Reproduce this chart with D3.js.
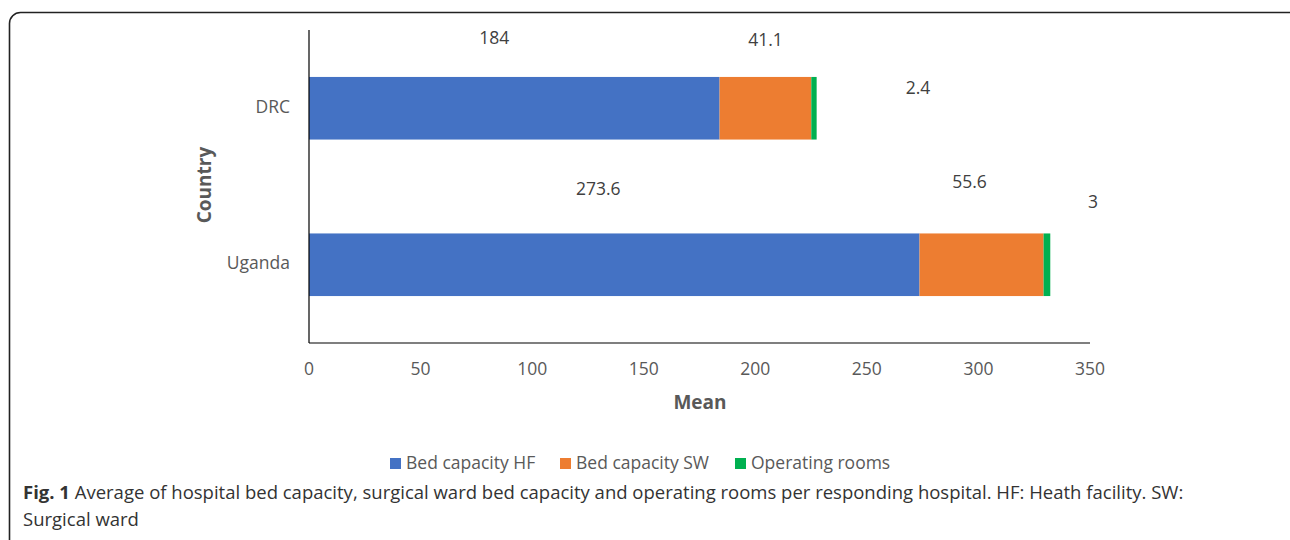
<!DOCTYPE html>
<html>
<head>
<meta charset="utf-8">
<script src="https://cdnjs.cloudflare.com/ajax/libs/d3/7.8.5/d3.min.js"></script>
<style>
  body { margin: 0; background: #fff; }
  text { font-family: "Open Sans", "Noto Sans", sans-serif; }
</style>
</head>
<body>
<script>
// dados
const countries = ["DRC", "Uganda"];
const seriesNames = ["Bed capacity HF", "Bed capacity SW", "Operating rooms"];
const bedHF = [184, 273.6];
const bedSW = [41.1, 55.6];
const opRooms = [2.4, 3];
const xTicks = [0, 50, 100, 150, 200, 250, 300, 350];
const colors = ["#4472c4", "#ed7d31", "#00b050"];

// deslocamento dos rótulos (como no Excel original)
const labelShift = [
  [[-20, -69], [0, -67], [104, -19]],
  [[-16, -74], [-12, -81], [46, -61]]
];

const W = 1290, H = 540;
const svg = d3.select("body").append("svg")
    .attr("width", W)
    .attr("height", H);

// moldura arredondada
svg.append("rect")
    .attr("x", 9.5)
    .attr("y", 12.5)
    .attr("width", 1320)
    .attr("height", 600)
    .attr("rx", 11)
    .attr("fill", "none")
    .attr("stroke", "#222")
    .attr("stroke-width", 1.6);

const pLeft = 309, pRight = 1090, pTop = 30, pBottom = 343;

const x = d3.scaleLinear().domain([0, 350]).range([pLeft, pRight]);
const y = d3.scaleBand().domain(countries).range([pTop, pBottom])
    .paddingInner(0.6).paddingOuter(0.3);

const rows = countries.map((c, i) => ({ country: c, vals: [bedHF[i], bedSW[i], opRooms[i]] }));
const stack = d3.stack().keys([0, 1, 2]).value((d, k) => d.vals[k]);
const layers = stack(rows);

// barras
svg.selectAll("g.layer")
    .data(layers)
    .join("g")
    .attr("class", "layer")
    .attr("fill", (d, i) => colors[i])
    .selectAll("rect")
    .data(d => d)
    .join("rect")
    .attr("x", d => x(d[0]))
    .attr("y", d => y(d.data.country))
    .attr("width", d => x(d[1]) - x(d[0]))
    .attr("height", y.bandwidth());

// rótulos de dados
layers.forEach((layer, k) => {
  layer.forEach((d, i) => {
    svg.append("text")
        .attr("x", (x(d[0]) + x(d[1])) / 2 + labelShift[i][k][0])
        .attr("y", y(d.data.country) + y.bandwidth() / 2 + labelShift[i][k][1])
        .attr("text-anchor", "middle")
        .attr("dominant-baseline", "middle")
        .attr("font-size", 17.5)
        .attr("fill", "#404040")
        .text(d.data.vals[k]);
  });
});

// eixos
svg.append("line")
    .attr("x1", pLeft).attr("x2", pLeft)
    .attr("y1", pTop).attr("y2", pBottom)
    .attr("stroke", "#000").attr("stroke-width", 1.2);
svg.append("line")
    .attr("x1", pLeft).attr("x2", pRight)
    .attr("y1", pBottom).attr("y2", pBottom)
    .attr("stroke", "#000").attr("stroke-width", 1.2);

svg.selectAll("text.xt")
    .data(xTicks)
    .join("text")
    .attr("class", "xt")
    .attr("x", d => x(d))
    .attr("y", 370)
    .attr("text-anchor", "middle")
    .attr("dominant-baseline", "middle")
    .attr("font-size", 17.5)
    .attr("fill", "#595959")
    .text(d => d);

svg.selectAll("text.yt")
    .data(countries)
    .join("text")
    .attr("class", "yt")
    .attr("x", pLeft - 19)
    .attr("y", d => y(d) + y.bandwidth() / 2)
    .attr("text-anchor", "end")
    .attr("dominant-baseline", "middle")
    .attr("font-size", 17.5)
    .attr("fill", "#595959")
    .text(d => d);

// títulos dos eixos
svg.append("text")
    .attr("x", 700).attr("y", 404)
    .attr("text-anchor", "middle")
    .attr("dominant-baseline", "middle")
    .attr("font-size", 19).attr("font-weight", "bold")
    .attr("fill", "#595959")
    .text("Mean");

svg.append("text")
    .attr("transform", "translate(206,185) rotate(-90)")
    .attr("text-anchor", "middle")
    .attr("dominant-baseline", "middle")
    .attr("font-size", 19).attr("font-weight", "bold")
    .attr("fill", "#595959")
    .text("Country");

// legenda
const legX = [390, 560, 735];
seriesNames.forEach((s, i) => {
  svg.append("rect")
      .attr("x", legX[i]).attr("y", 458)
      .attr("width", 11).attr("height", 11)
      .attr("fill", colors[i]);
  svg.append("text")
      .attr("x", legX[i] + 16).attr("y", 464)
      .attr("dominant-baseline", "middle")
      .attr("font-size", 17.5)
      .attr("fill", "#595959")
      .text(s);
});

// legenda da figura
const cap = svg.append("text")
    .attr("x", 23).attr("y", 499)
    .attr("font-size", 18.5)
    .attr("fill", "#333");
cap.append("tspan").attr("font-weight", "bold").text("Fig. 1");
cap.append("tspan").text(" Average of hospital bed capacity, surgical ward bed capacity and operating rooms per responding hospital. HF: Heath facility. SW:");
svg.append("text")
    .attr("x", 23).attr("y", 526)
    .attr("font-size", 18.5)
    .attr("fill", "#333")
    .text("Surgical ward");
</script>
</body>
</html>
